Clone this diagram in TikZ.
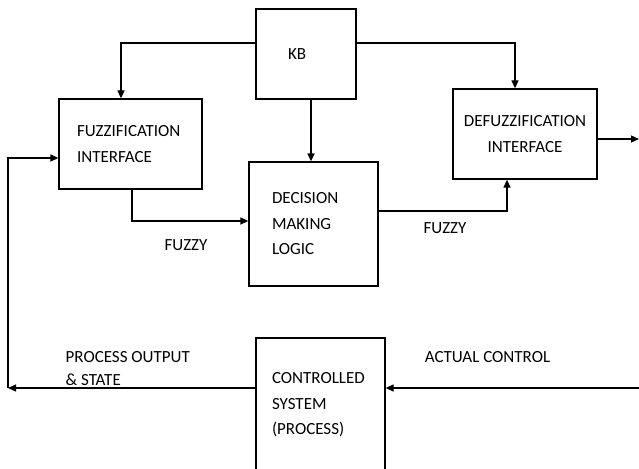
\documentclass[tikz,border=0pt]{standalone}
\usepackage{fontspec}
\setmainfont{Carlito}
\usetikzlibrary{arrows.meta}

\begin{document}
\begin{tikzpicture}[x=1pt,y=-1pt,line width=1.3pt,>={Triangle[length=8pt,width=7pt]},
  font=\fontsize{17}{25.5}\selectfont,
  blk/.style={rectangle,draw=black,align=left,inner ysep=0pt},
  lbl/.style={draw=none,align=left,inner sep=0pt}]
\useasboundingbox (0,0) rectangle (639,468);

% blocks
\node[blk,text width=36pt,inner xsep=32pt,minimum height=90pt] (kb) at (306,54) {KB};
\node[blk,text width=107pt,inner xsep=18pt,minimum height=90pt] (fuzz) at (130.5,144) {FUZZIFICATION\\INTERFACE};
\node[blk,align=center,text width=144pt,inner xsep=0pt,minimum height=90pt] (defuzz) at (525,134) {DEFUZZIFICATION\\INTERFACE};
\node[blk,text width=83pt,inner xsep=23pt,minimum height=124pt] (dec) at (313.5,224) {DECISION\\MAKING\\LOGIC};
\node[blk,text width=97pt,inner xsep=16pt,minimum height=134pt] (ctrl) at (320.5,405) {CONTROLLED\\SYSTEM\\(PROCESS)};

% labels
\node[lbl] (fz1) at (186,245) {FUZZY};
\node[lbl] (fz2) at (445,228) {FUZZY};
\node[lbl,anchor=west,font=\fontsize{17}{23}\selectfont] (pout) at (65,368.5) {PROCESS OUTPUT\\\& STATE};
\node[lbl] (act) at (487.5,357) {ACTUAL CONTROL};

\coordinate (out) at (639,139);
\coordinate (in) at (639,388);
\coordinate (fb) at (8,388);

% connectors
\draw[->] ([yshift=11pt]kb.west) -| ([xshift=-9.5pt]fuzz.north);
\draw[->] ([yshift=11pt]kb.east) -| ([xshift=-10pt]defuzz.north);
\draw[->] ([xshift=5pt]kb.south) -- ([xshift=5pt]kb.south |- dec.north);
\draw[->] ([xshift=1.5pt]fuzz.south) |- ([yshift=3pt]dec.west);
\draw[->] ([yshift=13pt]dec.east) -| ([xshift=-18pt]defuzz.south);
\draw[->] ([yshift=-5pt]defuzz.east) -- (out);
\draw[->] (in) -- ([yshift=17pt]ctrl.east);
\draw[->] ([yshift=17pt]ctrl.west) -- (fb);
\draw[->] (fb) |- ([yshift=-14pt]fuzz.west);

\end{tikzpicture}
\end{document}
